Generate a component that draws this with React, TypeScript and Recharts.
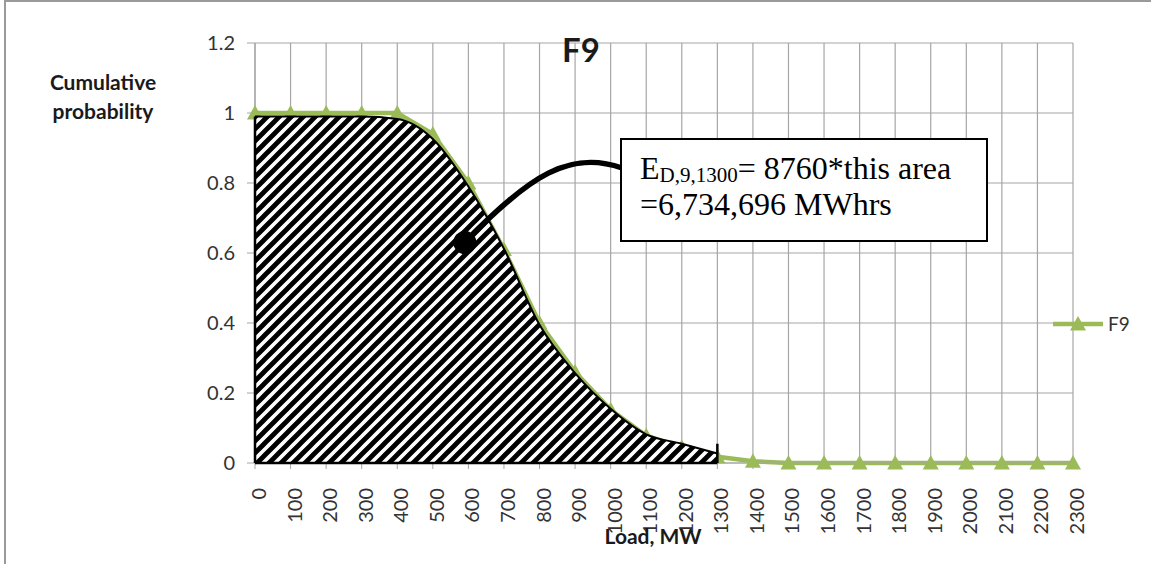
import React from 'react';
import {
  ComposedChart,
  Line,
  Area,
  XAxis,
  YAxis,
  CartesianGrid,
  Legend,
  ReferenceLine,
  ReferenceDot,
} from 'recharts';

// ---- data ----
const loadsMW = [0, 100, 200, 300, 400, 500, 600, 700, 800, 900, 1000, 1100, 1200, 1300, 1400, 1500, 1600, 1700, 1800, 1900, 2000, 2100, 2200, 2300];
const f9Values = [1, 1, 1, 1, 1, 0.94, 0.8, 0.61, 0.4, 0.26, 0.152, 0.078, 0.045, 0.018, 0.005, 0, 0, 0, 0, 0, 0, 0, 0, 0];
// shaded region (energy area up to 1300 MW)
const hatchValues = [0.99, 0.99, 0.99, 0.99, 0.983, 0.926, 0.79, 0.612, 0.395, 0.257, 0.155, 0.082, 0.055, 0.027];
const yTicks = [0, 0.2, 0.4, 0.6, 0.8, 1, 1.2];
const seriesName = 'F9';
const titleText = 'F9';
const yTitleLines = ['Cumulative', 'probability'];
const xTitle = 'Load, MW';
const calloutDotLoad = 590;
const calloutDotProb = 0.63;

const data = loadsMW.map((x, i) => ({
  x,
  F9: f9Values[i],
  hatch: i < hatchValues.length ? hatchValues[i] : null,
}));

const GREEN = '#9BBB59';
const GRID = '#a6a6a6';
const TICK_COLOR = '#333';
const SANS = 'Lato, "Open Sans", sans-serif';
const SERIF = '"Liberation Serif", "Times New Roman", serif';

const W = 1151;
const H = 564;
const MAIN_MARGIN = { top: 43, right: 78, bottom: 41, left: 195 };
const OVERLAY_MARGIN = { top: 43, right: 78, bottom: 101, left: 255 };

const TriangleDot = (props: any) => {
  const { cx, cy, index } = props;
  if (cx == null || cy == null) return <g key={`d-${index}`} />;
  return (
    <path
      key={`d-${index}`}
      d={`M${cx},${cy - 8} L${cx + 8},${cy + 6.5} L${cx - 8},${cy + 6.5} Z`}
      fill={GREEN}
      stroke="none"
    />
  );
};

const XTick = (props: any) => {
  const { x, y, payload } = props;
  const ty = y + 17;
  return (
    <text
      x={x + 3}
      y={ty}
      transform={`rotate(-90, ${x + 3}, ${ty})`}
      textAnchor="end"
      dominantBaseline="central"
      fontFamily={SANS}
      fontSize={20}
      fill={TICK_COLOR}
    >
      {payload.value}
    </text>
  );
};

const LegendContent = () => (
  <div style={{ display: 'flex', alignItems: 'center', fontFamily: SANS, fontSize: 19, color: TICK_COLOR }}>
    <svg width={54} height={20} style={{ display: 'block' }}>
      <line x1={1} y1={10} x2={51} y2={10} stroke={GREEN} strokeWidth={4.5} />
      <path d="M26,2 L34,16.5 L18,16.5 Z" fill={GREEN} />
    </svg>
    <span style={{ marginLeft: 2 }}>{seriesName}</span>
  </div>
);

export default function App() {
  return (
    <div style={{ position: 'absolute', left: 0, top: 0, width: W, height: H, overflow: 'hidden', background: '#fff' }}>
      <div
        style={{
          position: 'absolute',
          left: 4,
          top: 0,
          width: 1170,
          height: 600,
          border: '2px solid #9a9a9a',
          boxSizing: 'border-box',
        }}
      />
      {/* main chart: grid, axes, series */}
      <ComposedChart
        width={W}
        height={H}
        data={data}
        margin={MAIN_MARGIN}
        style={{ position: 'absolute', left: 0, top: 0, fontFamily: SANS }}
      >
        <CartesianGrid stroke={GRID} strokeWidth={1.2} />
        <XAxis
          type="number"
          dataKey="x"
          domain={[0, 2300]}
          ticks={loadsMW}
          interval={0}
          tick={<XTick />}
          tickSize={6}
          tickLine={{ stroke: GRID }}
          axisLine={{ stroke: GRID, strokeWidth: 1.2 }}
          height={60}
        />
        <YAxis
          type="number"
          domain={[0, 1.2]}
          ticks={yTicks}
          interval={0}
          tickSize={8}
          tickMargin={12}
          tick={{ fontFamily: SANS, fontSize: 20, fill: TICK_COLOR }}
          tickLine={{ stroke: GRID }}
          axisLine={{ stroke: GRID, strokeWidth: 1.2 }}
          width={60}
        />
        <Line
          type="linear"
          dataKey="F9"
          name={seriesName}
          stroke={GREEN}
          strokeWidth={4.5}
          dot={TriangleDot}
          activeDot={false}
          isAnimationActive={false}
          legendType="triangle"
        />
        <Legend
          layout="vertical"
          align="center"
          verticalAlign="middle"
          content={<LegendContent />}
          wrapperStyle={{ left: 1052, top: 312, width: 'auto', height: 'auto' }}
        />
      </ComposedChart>
      {/* overlay chart: hatched energy area drawn above the series, same scales */}
      <ComposedChart
        width={W}
        height={H}
        data={data}
        margin={OVERLAY_MARGIN}
        style={{ position: 'absolute', left: 0, top: 0, pointerEvents: 'none' }}
      >
        <defs>
          <pattern id="hatch" patternUnits="userSpaceOnUse" x={0} y={0} width={12} height={12}>
            <rect x={0} y={0} width={12} height={12} fill="#fff" />
            <path d="M-3,15 L15,-3 M-9,9 L9,-9 M3,21 L21,3" stroke="#000" strokeWidth={4.8} />
          </pattern>
        </defs>
        <XAxis type="number" dataKey="x" domain={[0, 2300]} hide />
        <YAxis type="number" domain={[0, 1.2]} hide />
        <Area
          type="monotone"
          dataKey="hatch"
          stroke="#000"
          strokeWidth={2}
          fill="url(#hatch)"
          fillOpacity={1}
          isAnimationActive={false}
          legendType="none"
          activeDot={false}
          dot={false}
        />
        <ReferenceLine
          segment={[{ x: 0, y: 0 }, { x: 0, y: hatchValues[0] }]}
          stroke="#000"
          strokeWidth={2.5}
          ifOverflow="visible"
        />
        <ReferenceLine
          segment={[{ x: 0, y: 0 }, { x: 1300, y: 0 }]}
          stroke="#000"
          strokeWidth={2.5}
          ifOverflow="visible"
        />
        <ReferenceLine
          segment={[{ x: 1300, y: 0 }, { x: 1300, y: 0.055 }]}
          stroke="#000"
          strokeWidth={2.5}
          ifOverflow="visible"
        />
        <ReferenceDot
          x={calloutDotLoad}
          y={calloutDotProb}
          r={11.5}
          fill="#000"
          stroke="none"
          ifOverflow="visible"
        />
      </ComposedChart>
      <svg width={W} height={H} style={{ position: 'absolute', left: 0, top: 0, pointerEvents: 'none' }}>
        <text x={581} y={62} textAnchor="middle" fontFamily={SANS} fontWeight="bold" fontSize={33} fill="#1a1a1a">
          {titleText}
        </text>
        <text x={103} y={90} textAnchor="middle" fontFamily={SANS} fontWeight="bold" fontSize={21} fill="#1a1a1a">
          {yTitleLines[0]}
        </text>
        <text x={103} y={119} textAnchor="middle" fontFamily={SANS} fontWeight="bold" fontSize={21} fill="#1a1a1a">
          {yTitleLines[1]}
        </text>
        <text x={653} y={544} textAnchor="middle" fontFamily={SANS} fontWeight="bold" fontSize={21} fill="#1a1a1a">
          {xTitle}
        </text>
        <path d="M465,242 C530,175 570,150 622,168" stroke="#000" strokeWidth={5.5} fill="none" strokeLinecap="round" />
        <rect x={621} y={139} width={366} height={102} fill="#fff" stroke="#000" strokeWidth={2} />
        <text x={640} y={179} fontFamily={SERIF} fontSize={32} fill="#000">
          <tspan>E</tspan>
          <tspan fontSize={21} dy={3}>D,9,1300</tspan>
          <tspan dy={-3}>= 8760*this area</tspan>
        </text>
        <text x={640} y={215} fontFamily={SERIF} fontSize={32} fill="#000">
          =6,734,696 MWhrs
        </text>
      </svg>
    </div>
  );
}
